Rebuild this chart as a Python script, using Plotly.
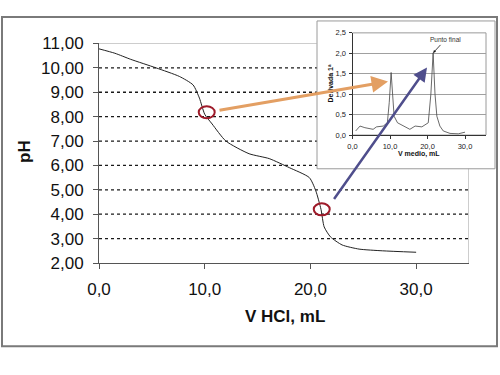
import plotly.graph_objects as go

# ---- data ----
v_hcl = [0, 1.5, 3, 5.4, 7.6, 8.9, 9.5, 10.0, 10.7, 12.0, 14.2, 16.1, 18.0, 19.9, 20.5, 21.0, 21.3, 21.9, 23.0, 24.6, 26.8, 30.0]
ph = [10.78, 10.6, 10.35, 10.0, 9.65, 9.3, 8.76, 8.1, 7.7, 7.0, 6.48, 6.28, 5.91, 5.5, 4.97, 4.2, 3.48, 3.07, 2.74, 2.57, 2.5, 2.44]

v_medio = [0.85, 2.0, 3.3, 5.5, 6.4, 8.2, 9.3, 9.8, 10.3, 10.8, 11.1, 12.0, 13.5, 15.3, 16.7, 18.5, 20.2, 20.9, 21.5, 22.0, 22.5, 23.3, 24.2, 26.0, 28.2, 29.6, 30.0]
deriv = [0.1, 0.22, 0.18, 0.14, 0.2, 0.22, 0.3, 0.8, 1.53, 0.8, 0.46, 0.3, 0.22, 0.14, 0.22, 0.2, 0.3, 1.0, 2.01, 1.0, 0.46, 0.22, 0.1, 0.04, 0.03, 0.07, 0.07]

ph_ticks = [2, 3, 4, 5, 6, 7, 8, 9, 10, 11]
ph_ticktext = ["2,00", "3,00", "4,00", "5,00", "6,00", "7,00", "8,00", "9,00", "10,00", "11,00"]
v_ticks = [0, 10, 20, 30]
v_ticktext = ["0,0", "10,0", "20,0", "30,0"]
d_ticks = [0, 0.5, 1.0, 1.5, 2.0, 2.5]
d_ticktext = ["0,0", "0,5", "1,0", "1,5", "2,0", "2,5"]
marked_v = [10.19, 21.07]
marked_ph = [8.18, 4.2]

# ---- layout geometry (pixels) ----
W, H = 500, 375
L, R, T, B = 99, 8, 15, 112
PW = W - L - R
PH = H - T - B


def PX(p):
    return (p - L) / PW


def PY(p):
    return (H - B - p) / PH


FONT = "Liberation Sans, Arial, sans-serif"

fig = go.Figure()
fig.add_trace(go.Scatter(x=v_hcl, y=ph, mode="lines",
                         line=dict(color="#222222", width=1, shape="spline", smoothing=0.6),
                         xaxis="x", yaxis="y", showlegend=False, hoverinfo="skip"))
fig.add_trace(go.Scatter(x=v_medio, y=deriv, mode="lines",
                         line=dict(color="#444444", width=0.8),
                         xaxis="x2", yaxis="y2", showlegend=False, hoverinfo="skip"))

x_main_end = 35
x_inset_edge = (317 - 99.3) / 10.57
ph_inset_bottom = 11 - (168 - 41.7) / 24.6

shapes = []
# outer border
shapes.append(dict(type="rect", xref="paper", yref="paper",
                   x0=PX(2), x1=PX(497), y0=PY(347), y1=PY(15),
                   line=dict(color="#7a7a7a", width=2), fillcolor="rgba(0,0,0,0)", layer="below"))
# inset box
shapes.append(dict(type="rect", xref="paper", yref="paper",
                   x0=PX(317), x1=PX(495), y0=PY(168), y1=PY(19),
                   line=dict(color="#9a9a9a", width=1), fillcolor="white", layer="below"))
# main gridlines (dotted)
for v in ph_ticks[1:-1]:
    xe = x_inset_edge if v > ph_inset_bottom else x_main_end
    shapes.append(dict(type="line", xref="x", yref="y", x0=0, x1=xe, y0=v, y1=v,
                       line=dict(color="#1a1a1a", width=1.3, dash="dot"), layer="below"))
# main frame top and right
shapes.append(dict(type="line", xref="x", yref="y", x0=0, x1=x_inset_edge, y0=11, y1=11,
                   line=dict(color="#9a9a9a", width=1), layer="below"))
shapes.append(dict(type="line", xref="x", yref="y", x0=x_main_end, x1=x_main_end, y0=2, y1=ph_inset_bottom,
                   line=dict(color="#9a9a9a", width=1), layer="below"))
# inset frame
shapes.append(dict(type="rect", xref="x2 domain", yref="y2 domain", x0=0, x1=1, y0=0, y1=1,
                   line=dict(color="#9a9a9a", width=1), layer="below"))
# red circles
for cx, cy in zip(marked_v, marked_ph):
    shapes.append(dict(type="circle", xref="x", yref="y", xsizemode="pixel", ysizemode="pixel",
                       xanchor=cx, yanchor=cy, x0=-8, x1=8, y0=-6, y1=6,
                       line=dict(color="#9e1b2a", width=2), layer="above"))

annotations = [
    dict(text="<b>V HCl, mL</b>", xref="paper", yref="paper", x=PX(285), y=PY(317),
         showarrow=False, font=dict(family=FONT, size=17, color="#111"), xanchor="center", yanchor="middle"),
    dict(text="<b>pH</b>", xref="paper", yref="paper", x=PX(25), y=PY(151),
         showarrow=False, textangle=-90, font=dict(family=FONT, size=17, color="#111"),
         xanchor="center", yanchor="middle"),
    dict(text="<b>V medio, mL</b>", xref="paper", yref="paper", x=PX(419), y=PY(153),
         showarrow=False, font=dict(family=FONT, size=7, color="#111"), xanchor="center", yanchor="middle"),
    dict(text="<b>Derivada 1ª</b>", xref="paper", yref="paper", x=PX(330), y=PY(82),
         showarrow=False, textangle=-90, font=dict(family=FONT, size=7, color="#111"),
         xanchor="center", yanchor="middle"),
    dict(text="Punto final", xref="x2", yref="y2", x=21.5, y=2.01, ax=12, ay=-13,
         showarrow=True, arrowhead=2, arrowsize=0.7, arrowwidth=0.8, arrowcolor="#111",
         font=dict(family=FONT, size=6.5, color="#333")),
    # orange arrow
    dict(text="", xref="paper", yref="paper", x=PX(388), y=PY(80), ax=218 - 388, ay=109 - 80,
         axref="pixel", ayref="pixel", showarrow=True, arrowhead=2, arrowsize=1.1, arrowwidth=3,
         arrowcolor="#E39F63"),
    # purple arrow
    dict(text="", xref="paper", yref="paper", x=PX(427), y=PY(66), ax=333 - 427, ay=199 - 66,
         axref="pixel", ayref="pixel", showarrow=True, arrowhead=2, arrowsize=1.1, arrowwidth=2.5,
         arrowcolor="#4F4E8C"),
]

fig.update_layout(
    width=W, height=H,
    margin=dict(l=L, r=R, t=T, b=B, pad=0),
    paper_bgcolor="white", plot_bgcolor="rgba(0,0,0,0)",
    font=dict(family=FONT, color="#111"),
    showlegend=False,
    xaxis=dict(domain=[0, PX(469)], range=[0, 35], tickvals=v_ticks, ticktext=v_ticktext,
               showgrid=False, zeroline=False, showline=True, linecolor="#555", linewidth=1,
               ticks="outside", ticklen=5, tickcolor="#555", tickfont=dict(size=17, family=FONT, color="#111"),
               ticklabelstandoff=6, anchor="y", fixedrange=True),
    yaxis=dict(domain=[0, PY(41.7)], range=[2, 11], tickvals=ph_ticks, ticktext=ph_ticktext,
               showgrid=False, zeroline=False, showline=True, linecolor="#555", linewidth=1,
               ticks="outside", ticklen=5, tickcolor="#555", tickfont=dict(size=17, family=FONT, color="#111"),
               ticklabelstandoff=6, anchor="x", fixedrange=True),
    xaxis2=dict(domain=[PX(352.5), PX(486)], range=[0, 35.6], tickvals=v_ticks, ticktext=v_ticktext,
                showgrid=False, zeroline=False, showline=True, linecolor="#333", linewidth=1,
                ticks="outside", ticklen=3, tickcolor="#333", tickfont=dict(size=7.5, family=FONT, color="#222"),
                ticklabelstandoff=1, anchor="y2", fixedrange=True),
    yaxis2=dict(domain=[PY(134), PY(31)], range=[0, 2.5], tickvals=d_ticks, ticktext=d_ticktext,
                showgrid=True, gridcolor="#a0a0a0", gridwidth=1, zeroline=False,
                showline=True, linecolor="#333", linewidth=1,
                ticks="outside", ticklen=3, tickcolor="#333", tickfont=dict(size=7.5, family=FONT, color="#222"),
                ticklabelstandoff=1, anchor="x2", fixedrange=True),
    shapes=shapes,
    annotations=annotations,
)

fig.write_html("out.html", config={"displayModeBar": False},
               post_script="document.body.style.margin='0';")
